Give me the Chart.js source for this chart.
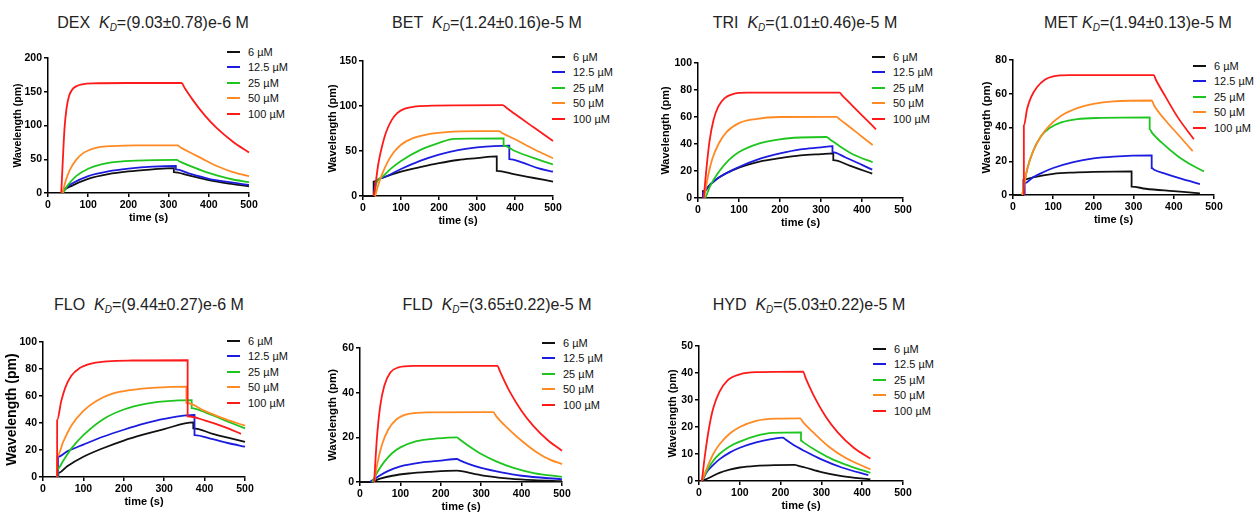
<!DOCTYPE html>
<html>
<head>
<meta charset="utf-8">
<script src="https://cdn.jsdelivr.net/npm/chart.js@4.4.1/dist/chart.umd.min.js"></script>
<style>
  body { margin: 0; background: #fff; font-family: 'Liberation Sans', Arial, sans-serif; }
  #page { position: relative; width: 1255px; height: 512px; overflow: hidden; }
  .ttl { position: absolute; font-size: 16px; color: #222; white-space: nowrap; transform: translate(-50%, -50%); }
  .ttl sub { font-size: 10px; vertical-align: -3px; }
  .leg { position: absolute; font-size: 11px; color: #111; }
  .leg .ln { position: absolute; width: 13px; height: 2px; }
  .leg .tx { position: absolute; left: 21px; white-space: nowrap; transform: translateY(-50%); }
  .wrap { position: absolute; }
</style>
</head>
<body>
<div id="page"></div>
<script>
// panels, in reading order
const panelNames = ["DEX", "BET", "TRI", "MET", "FLO", "FLD", "HYD"];
const kdValues = ["(9.03±0.78)e-6 M", "(1.24±0.16)e-5 M", "(1.01±0.46)e-5 M", "(1.94±0.13)e-5 M",
                  "(9.44±0.27)e-6 M", "(3.65±0.22)e-5 M", "(5.03±0.22)e-5 M"];
const yMax = [200, 150, 100, 80, 100, 60, 50];
const yStep = [50, 50, 20, 20, 20, 20, 10];
const concLabels = ["6 µM", "12.5 µM", "25 µM", "50 µM", "100 µM"];
const seriesColors = ["#111111", "#1c1ce0", "#1ec51e", "#ff8a24", "#ff1a1a"];

// [time (s), wavelength (pm)]; a repeated time = vertical jump
const DEX_6   = [[35,0],[40,4],[60,11],[100,21],[150,28],[200,32],[260,35],[313,37],[313,31],[350,26],[400,19],[450,14],[500,10]];
const DEX_12  = [[35,0],[40,5],[60,14],[100,25],[150,32],[200,36],[260,39],[318,40],[318,35],[350,29],[400,21],[450,16],[500,12]];
const DEX_25  = [[37,0],[50,12],[70,25],[100,36],[130,42],[170,46],[220,48],[320,49],[328,46.5],[350,41],[380,34],[420,26],[460,20],[500,16]];
const DEX_50  = [[36,0],[45,20],[55,35],[70,49],[85,58],[100,63],[125,67.5],[160,69.5],[220,70.5],[322,70.5],[330,67.5],[350,61],[380,52],[420,40],[460,31],[500,25]];
const DEX_100 = [[33,0],[37,50],[41,95],[46,125],[52,143],[60,153],[70,158],[85,161],[110,162.5],[200,163],[332,163],[340,155.5],[360,138],[390,115],[420,96],[460,76],[500,60]];

const BET_6   = [[0,0],[28,0],[28,16],[50,20],[100,27],[150,32],[200,36.5],[250,40],[300,42],[352,44],[352,28],[400,24],[450,20],[500,16]];
const BET_12  = [[29,0],[32,14],[50,20],[100,30],[150,39],[200,46],[250,51],[300,54],[385,56],[385,41],[420,37],[460,31],[500,27]];
const BET_25  = [[30,0],[35,14],[50,21],[75,31],[100,39],[150,51],[200,59],[240,63.5],[370,64],[370,56],[400,50],[450,42],[500,35]];
const BET_50  = [[32,0],[40,12],[50,24],[65,38],[80,48],[100,57],[130,64],[170,68.5],[220,71],[300,72],[358,72],[366,70],[400,63],[450,52],[500,42]];
const BET_100 = [[28,0],[32,10],[40,35],[50,55],[60,70],[75,84],[90,92],[110,97],[140,99.5],[185,100.5],[368,101],[376,98.6],[400,91],[450,76],[500,61]];

const TRI_6   = [[12,0],[12,5],[30,10],[50,15],[100,22.5],[150,27],[200,29.5],[250,31.5],[300,32.5],[330,33],[330,28],[370,24],[425,18]];
const TRI_12  = [[12,0],[12,4],[30,10],[50,15],[100,23],[150,29],[200,33],[250,36],[300,37.5],[328,38.5],[328,34],[360,30],[400,24.5],[425,21]];
const TRI_25  = [[18,0],[30,9],[50,19],[75,28],[100,34],[150,40.5],[200,43.5],[250,44.8],[313,45.2],[322,43.4],[345,38.5],[380,32],[426,26.5]];
const TRI_50  = [[15,0],[25,17],[35,29],[50,40],[70,49],[100,55.5],[140,58.5],[200,60],[338,60.1],[345,58.4],[370,52.6],[400,45.4],[426,39.3]];
const TRI_100 = [[14,0],[20,20],[28,42],[38,58],[50,68],[65,74],[85,77],[120,78],[345,78],[352,75.9],[380,67.3],[410,58.2],[434,50.9]];

const MET_6   = [[0,0],[26,0],[26,9],[50,10.5],[100,12.5],[150,13.3],[200,13.7],[295,14],[295,5],[330,3.7],[400,2.3],[465,1]];
const MET_12  = [[29,0],[29,7],[50,10.5],[75,13.5],[100,16],[150,19.5],[200,21.7],[250,22.8],[345,23.5],[345,16],[351,15],[380,12.5],[420,9.5],[465,6.5]];
const MET_25  = [[23,0],[35,15],[50,26],[70,35],[90,39.5],[120,43],[160,45],[220,45.7],[340,46],[340,39],[346,36.8],[370,31],[410,23],[450,17],[475,14]];
const MET_50  = [[23,0],[35,15],[50,26],[70,35],[90,41],[120,47],[160,51.5],[200,54],[250,55.5],[345,56],[351,53],[380,44],[410,36],[447,26]];
const MET_100 = [[27,0],[27,41],[35,51],[45,58],[60,64],[80,68.5],[100,70.3],[140,71],[350,71],[356,68],[380,58],[410,46],[450,33]];

const FLO_6   = [[38,0],[38,3],[60,8],[100,15],[150,21.5],[200,27],[250,31.5],[300,35.5],[372,40.5],[372,36],[420,32],[460,29],[500,26]];
const FLO_12  = [[37,0],[37,15],[60,19],[100,24],[150,30],[200,35],[250,39.5],[300,43],[375,46],[375,31],[420,28],[460,25],[500,22.5]];
const FLO_25  = [[36,0],[36,6],[50,12],[70,21],[100,31],[150,43],[200,50],[250,54],[300,56],[368,57],[368,51],[400,48],[450,42],[500,36]];
const FLO_50  = [[35,0],[35,15],[50,26],[70,38],[100,49],[130,56],[170,61.5],[220,64.5],[280,66.2],[355,67],[355,55],[400,49],[450,43],[500,38]];
const FLO_100 = [[35,0],[35,42],[45,56],[55,66],[70,75],[90,80.5],[120,84],[160,85.7],[220,86.3],[358,86.5],[358,45],[400,42],[450,37],[490,32]];

const FLD_6   = [[0,0],[25,0],[50,1.5],[80,2.8],[120,3.8],[170,4.5],[240,5.1],[280,3.8],[320,2.5],[370,1.5],[430,0.8],[500,0.4]];
const FLD_12  = [[25,0],[45,2.5],[70,5],[100,7],[150,8.7],[200,9.6],[240,10.3],[247,9.7],[270,8],[300,6.3],[350,4.3],[400,2.8],[500,1.2]];
const FLD_25  = [[30,0],[45,5],[60,9],[80,13],[100,15.5],[140,18.3],[190,19.5],[240,20],[247,19],[270,16],[300,12.5],[340,9],[380,6.3],[430,4],[500,2.3]];
const FLD_50  = [[35,0],[45,10],[55,17],[70,23.5],[90,28],[120,30.5],[170,31.2],[330,31.3],[337,29.5],[360,25],[400,18.5],[440,13],[470,10],[500,8]];
const FLD_100 = [[35,0],[42,20],[50,34],[60,43],[75,49],[95,51.3],[130,52],[340,52],[347,49.3],[370,40.7],[400,31.8],[430,24.9],[465,18.7],[500,14]];

const HYD_6   = [[7,0],[25,1.2],[50,3],[75,4.2],[100,5],[140,5.6],[190,5.9],[235,6],[242,5.7],[260,5],[300,3.3],[350,1.8],[420,0.6]];
const HYD_12  = [[7,0],[20,3.5],[35,6],[50,8],[75,10.5],[100,12.3],[140,14.3],[180,15.6],[205,16.1],[212,15.4],[230,13.5],[260,11],[300,8],[350,5],[415,2.2]];
const HYD_25  = [[7,0],[20,4],[35,7.5],[50,10],[75,12.8],[100,14.6],[140,16.7],[180,17.8],[250,18],[250,15],[256,14.3],[290,11],[330,7.8],[370,5.5],[420,3]];
const HYD_50  = [[7,0],[20,5],[35,10],[50,13.5],[75,17.5],[100,20],[140,22.3],[190,23.1],[248,23.2],[255,21.8],[280,18],[320,12.5],[360,8.5],[420,4.3]];
const HYD_100 = [[7,0],[15,10],[25,20],[35,27],[50,33],[70,37.3],[100,39.5],[140,40.3],[255,40.5],[262,37.9],[280,32],[310,24],[340,18],[380,12.2],[420,8.3]];

const panelSeries = [
  [DEX_6, DEX_12, DEX_25, DEX_50, DEX_100],
  [BET_6, BET_12, BET_25, BET_50, BET_100],
  [TRI_6, TRI_12, TRI_25, TRI_50, TRI_100],
  [MET_6, MET_12, MET_25, MET_50, MET_100],
  [FLO_6, FLO_12, FLO_25, FLO_50, FLO_100],
  [FLD_6, FLD_12, FLD_25, FLD_50, FLD_100],
  [HYD_6, HYD_12, HYD_25, HYD_50, HYD_100]
];

// layout: plot box (L,T,R,B), title centre, legend spot, y title offset / size
const boxes = [
  { L: 48,  T: 58,  R: 249,  B: 193, tx: 153, ty: 23,  lx: 227,  ly: 52,  yd: 30, ys: 10.5 },
  { L: 363, T: 61,  R: 553,  B: 196, tx: 487, ty: 23,  lx: 552,  ly: 57,  yd: 30, ys: 11 },
  { L: 698, T: 63,  R: 903,  B: 198, tx: 805, ty: 23,  lx: 872,  ly: 57,  yd: 32, ys: 11 },
  { L: 1013,T: 60,  R: 1214, B: 195, tx: 1138,ty: 23,  lx: 1193, ly: 66,  yd: 26, ys: 11.5 },
  { L: 43,  T: 342, R: 245,  B: 477, tx: 149, ty: 305, lx: 227,  ly: 341, yd: 31, ys: 14 },
  { L: 360, T: 348, R: 562,  B: 482, tx: 497, ty: 305, lx: 542,  ly: 343, yd: 27, ys: 11.5 },
  { L: 699, T: 346, R: 903,  B: 481, tx: 809, ty: 305, lx: 873,  ly: 349, yd: 26, ys: 11 }
];

const page = document.getElementById("page");
const FONT = "'Liberation Sans', Arial, sans-serif";
const AXW = 48, AXH = 44, PADT = 14, PADR = 16;

function makePanel(i) {
  const b = boxes[i];

  let t = document.createElement("div");
  t.className = "ttl";
  t.style.left = b.tx + "px";
  t.style.top = b.ty + "px";
  let gap = panelNames[i] == "MET" ? " " : "&nbsp; ";
  t.innerHTML = panelNames[i] + gap + "<i>K<sub>D</sub></i>=" + kdValues[i];
  page.appendChild(t);

  let leg = document.createElement("div");
  leg.className = "leg";
  leg.style.left = b.lx + "px";
  leg.style.top = b.ly + "px";
  concLabels.forEach((lab, k) => {
    let ln = document.createElement("div");
    ln.className = "ln";
    ln.style.top = (k * 15.4 - 1) + "px";
    ln.style.background = seriesColors[k];
    let tx = document.createElement("div");
    tx.className = "tx";
    tx.style.top = (k * 15.4) + "px";
    tx.textContent = lab;
    leg.appendChild(ln);
    leg.appendChild(tx);
  });
  page.appendChild(leg);

  let cw = b.R - b.L + AXW + PADR;
  let ch = b.B - b.T + PADT + AXH;
  let wrap = document.createElement("div");
  wrap.className = "wrap";
  wrap.style.left = (b.L - AXW) + "px";
  wrap.style.top = (b.T - PADT) + "px";
  let cv = document.createElement("canvas");
  cv.width = cw; cv.height = ch;
  cv.style.width = cw + "px"; cv.style.height = ch + "px";
  wrap.appendChild(cv);
  page.appendChild(wrap);

  let yLh = b.ys * 1.2;
  let axisGrid = { display: true, drawOnChartArea: false, drawTicks: true, tickLength: 4, color: "#000", lineWidth: 1.5 };
  let tickFont = { family: FONT, size: 10.5, weight: "bold" };

  new Chart(cv, {
    type: "line",
    data: {
      datasets: panelSeries[i].map((pts, k) => ({
        label: concLabels[k],
        data: pts.map(p => ({ x: p[0], y: p[1] })),
        borderColor: seriesColors[k],
        borderWidth: 1.8,
        pointRadius: 0,
        cubicInterpolationMode: "monotone",
        fill: false,
        clip: false,
        order: 4 - k
      }))
    },
    options: {
      responsive: false,
      animation: false,
      layout: { padding: { top: PADT, right: PADR, left: 0, bottom: 0 } },
      plugins: { legend: { display: false }, tooltip: { enabled: false } },
      scales: {
        x: {
          type: "linear", min: 0, max: 500,
          ticks: { stepSize: 100, color: "#000", font: tickFont, padding: 2, maxRotation: 0 },
          grid: axisGrid,
          border: { color: "#000", width: 1.5 },
          title: { display: true, text: "time (s)", color: "#000",
                   font: { family: FONT, size: 11, weight: "bold" },
                   padding: { top: 0, bottom: AXH - 25 - 6.6 } },
          afterFit: s => { s.height = AXH; }
        },
        y: {
          min: 0, max: yMax[i],
          ticks: { stepSize: yStep[i], color: "#000", font: tickFont, padding: 2 },
          grid: axisGrid,
          border: { color: "#000", width: 1.5 },
          title: { display: true, text: "Wavelength (pm)", color: "#000",
                   font: { family: FONT, size: b.ys, weight: "bold" },
                   padding: { top: AXW - b.yd - yLh / 2, bottom: 0 } },
          afterFit: s => { s.width = AXW; }
        }
      }
    }
  });
}

for (let i = 0; i < panelNames.length; i++) makePanel(i);
</script>
</body>
</html>
